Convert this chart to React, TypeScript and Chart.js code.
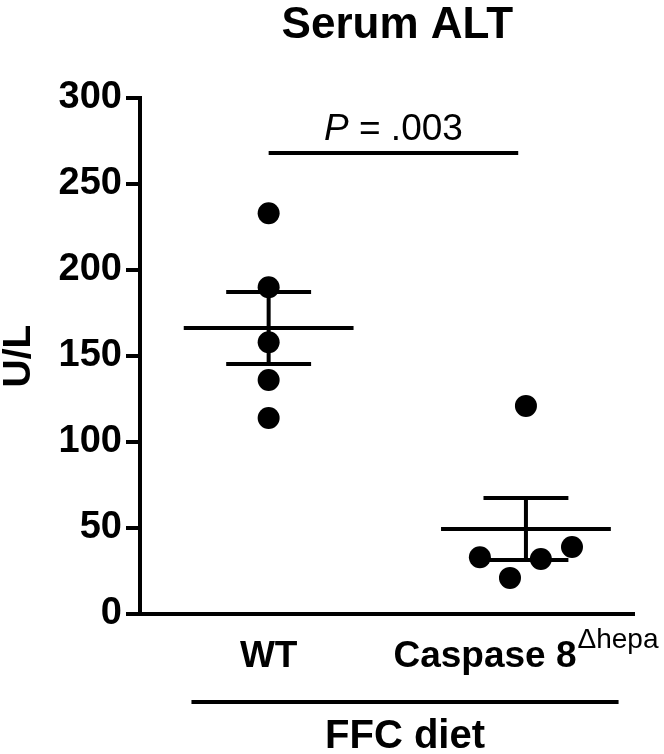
import React, { useEffect, useRef } from "react";
import { Chart, registerables } from "chart.js";

Chart.register(...registerables);

const groups = ["WT", "Caspase 8"];
const groupSuperscripts = ["", "\u0394hepa"];
const groupPositions = [1, 2];
const wtValues = [233, 190, 158, 136, 114];
const wtJitter = [0, 0, 0, 0, 0];
const caspValues = [121, 33, 21, 32, 39];
const caspJitter = [0, -0.179, -0.062, 0.058, 0.179];
const groupMeans = [166.3, 49.4];
const groupSems = [20.9, 18.0];
const yTicks = [0, 50, 100, 150, 200, 250, 300];
const titleText = "Serum ALT";
const yTitle = "U/L";
const pLabel = "= .003";
const pItalic = "P";
const bracketRange = [1, 1.97];
const dietLabel = "FFC diet";
const dietRange = [0.7, 2.36];

const FONT = '"Liberation Sans", Arial, Helvetica, sans-serif';
const MEAN_HALF = 0.33;
const CAP_HALF = 0.165;

function meanData(g: number, m: number) {
  return [
    { x: g - MEAN_HALF, y: m },
    { x: g + MEAN_HALF, y: m },
  ];
}
function semData(g: number, m: number, s: number) {
  return [
    { x: g - CAP_HALF, y: m + s },
    { x: g + CAP_HALF, y: m + s },
    { x: g, y: null },
    { x: g, y: m + s },
    { x: g, y: m - s },
    { x: g, y: null },
    { x: g - CAP_HALF, y: m - s },
    { x: g + CAP_HALF, y: m - s },
  ];
}

const annotations = {
  id: "annotations",
  afterDraw(chart: any) {
    const ctx = chart.ctx;
    const xs = chart.scales.x;
    ctx.save();
    ctx.fillStyle = "#000";
    ctx.strokeStyle = "#000";
    // title
    const midX = (xs.getPixelForValue(groupPositions[0]) + xs.getPixelForValue(groupPositions[1])) / 2;
    ctx.font = `bold 44px ${FONT}`;
    ctx.textAlign = "center";
    ctx.textBaseline = "alphabetic";
    ctx.fillText(titleText, midX, 38);

    // p-value bracket
    const bx0 = xs.getPixelForValue(bracketRange[0]);
    const bx1 = xs.getPixelForValue(bracketRange[1]);
    ctx.lineWidth = 4;
    ctx.beginPath();
    ctx.moveTo(bx0, 153);
    ctx.lineTo(bx1, 153);
    ctx.stroke();
    ctx.font = `italic 37px ${FONT}`;
    const pw = ctx.measureText(pItalic + " ").width;
    ctx.font = `37px ${FONT}`;
    const rw = ctx.measureText(pLabel).width;
    const startX = (bx0 + bx1) / 2 - (pw + rw) / 2;
    ctx.textAlign = "left";
    ctx.font = `italic 37px ${FONT}`;
    ctx.fillText(pItalic, startX, 140);
    ctx.font = `37px ${FONT}`;
    ctx.fillText(pLabel, startX + pw, 140);

    // x labels
    groups.forEach((g, i) => {
      const cx = xs.getPixelForValue(groupPositions[i]);
      ctx.font = `bold 37px ${FONT}`;
      const w1 = ctx.measureText(g).width;
      ctx.font = `28px ${FONT}`;
      const w2 = groupSuperscripts[i] ? ctx.measureText(groupSuperscripts[i]).width + 1 : 0;
      const sx = cx - (w1 + w2) / 2;
      ctx.font = `bold 37px ${FONT}`;
      ctx.fillText(g, sx, 667);
      if (groupSuperscripts[i]) {
        ctx.font = `28px ${FONT}`;
        ctx.fillText(groupSuperscripts[i], sx + w1 + 1, 648);
      }
    });

    // diet bracket
    const dx0 = xs.getPixelForValue(dietRange[0]);
    const dx1 = xs.getPixelForValue(dietRange[1]);
    ctx.lineWidth = 4;
    ctx.beginPath();
    ctx.moveTo(dx0, 702);
    ctx.lineTo(dx1, 702);
    ctx.stroke();
    ctx.font = `bold 40px ${FONT}`;
    ctx.textAlign = "center";
    ctx.fillText(dietLabel, (dx0 + dx1) / 2, 748);
    ctx.restore();
  },
};

export default function App() {
  const ref = useRef<HTMLCanvasElement>(null);
  useEffect(() => {
    if (!ref.current) return;
    const chart = new Chart(ref.current, {
      type: "scatter",
      data: {
        datasets: [
          {
            data: wtValues.map((v, i) => ({ x: groupPositions[0] + wtJitter[i], y: v })),
            backgroundColor: "#000",
            borderColor: "#000",
            pointRadius: 11,
            pointBorderWidth: 0,
          },
          {
            data: caspValues.map((v, i) => ({ x: groupPositions[1] + caspJitter[i], y: v })),
            backgroundColor: "#000",
            borderColor: "#000",
            pointRadius: 11,
            pointBorderWidth: 0,
          },
          ...groupPositions.map((g, i) => ({
            type: "line" as const,
            data: meanData(g, groupMeans[i]),
            borderColor: "#000",
            borderWidth: 4,
            pointRadius: 0,
            showLine: true,
            spanGaps: false,
          })),
          ...groupPositions.map((g, i) => ({
            type: "line" as const,
            data: semData(g, groupMeans[i], groupSems[i]),
            borderColor: "#000",
            borderWidth: 4,
            pointRadius: 0,
            showLine: true,
            spanGaps: false,
          })),
        ] as any,
      },
      options: {
        animation: false,
        responsive: false,
        devicePixelRatio: 1,
        layout: { padding: { top: 98, right: 30, bottom: 0, left: 0 } },
        plugins: { legend: { display: false }, tooltip: { enabled: false }, title: { display: false } },
        scales: {
          x: {
            type: "linear",
            min: 0.5,
            max: 2.42,
            ticks: { display: false },
            grid: { display: false },
            border: { display: true, color: "#000", width: 4 },
            afterFit: (s: any) => {
              s.height = 140;
            },
          },
          y: {
            min: 0,
            max: 300,
            afterBuildTicks: (s: any) => {
              s.ticks = yTicks.map((v) => ({ value: v }));
            },
            ticks: {
              font: { family: FONT, size: 38, weight: "bold" },
              color: "#000",
              padding: 4,
            },
            grid: {
              drawOnChartArea: false,
              drawTicks: true,
              tickLength: 14,
              lineWidth: 4,
              color: "#000",
            },
            border: { display: true, color: "#000", width: 4 },
            title: {
              display: true,
              text: yTitle,
              font: { family: FONT, size: 39, weight: "bold", lineHeight: 1 },
              color: "#000",
              padding: 0,
            },
            afterFit: (s: any) => {
              s.width = 140;
            },
          },
        },
      },
      plugins: [annotations],
    });
    return () => chart.destroy();
  }, []);
  return (
    <div style={{ position: "absolute", left: 0, top: 0, width: 664, height: 754, background: "#fff" }}>
      <canvas ref={ref} width={664} height={754} />
    </div>
  );
}
